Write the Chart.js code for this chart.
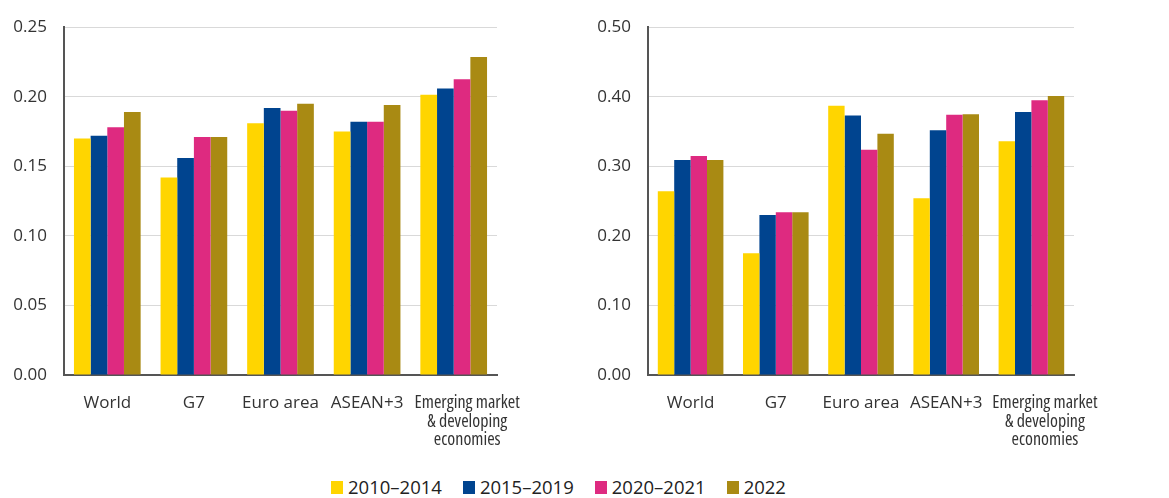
<!DOCTYPE html>
<html>
<head>
<meta charset="utf-8">
<script src="https://cdn.jsdelivr.net/npm/chart.js@4/dist/chart.umd.min.js"></script>
<style>
  html, body { margin: 0; padding: 0; background: #fff; }
  body { width: 1169px; height: 498px; position: relative; overflow: hidden; font-family: "Open Sans", sans-serif; }
  #leftBox { position: absolute; left: 0; top: 0; width: 580px; height: 460px; }
  #rightBox { position: absolute; left: 580px; top: 0; width: 589px; height: 460px; }
  #legend { position: absolute; left: 331px; top: 474px; display: flex; justify-content: flex-start; }
  .item { display: flex; align-items: center; margin-right: 21px; font-size: 18.5px; color: #222; line-height: 26px; }
  .item:last-child { margin-right: 0; }
  .box { width: 12px; height: 13px; margin-right: 5px; }
</style>
</head>
<body>
<div id="leftBox"><canvas id="left"></canvas></div>
<div id="rightBox"><canvas id="right"></canvas></div>
<div id="legend"></div>
<script>
const categories = ['World', 'G7', 'Euro area', 'ASEAN+3', ['Emerging market', '& developing', 'economies']];
const seriesLabels = ['2010\u20132014', '2015\u20132019', '2020\u20132021', '2022'];
const seriesColors = ['#FFD500', '#00448F', '#DE2A80', '#A98A13'];

// Left panel
const left2010_2014 = [0.170, 0.142, 0.181, 0.175, 0.2015];
const left2015_2019 = [0.172, 0.156, 0.192, 0.182, 0.206];
const left2020_2021 = [0.178, 0.171, 0.190, 0.182, 0.2125];
const left2022      = [0.189, 0.171, 0.195, 0.194, 0.2285];
const leftTicks = [0.00, 0.05, 0.10, 0.15, 0.20, 0.25];

// Right panel
const right2010_2014 = [0.264, 0.175, 0.387, 0.254, 0.336];
const right2015_2019 = [0.309, 0.230, 0.373, 0.352, 0.378];
const right2020_2021 = [0.315, 0.234, 0.324, 0.374, 0.395];
const right2022      = [0.309, 0.234, 0.347, 0.375, 0.401];
const rightTicks = [0.00, 0.10, 0.20, 0.30, 0.40, 0.50];

function makeChart(id, seriesList, ticks, yWidth, padRight) {
  const datasets = seriesList.map((d, i) => ({
    label: seriesLabels[i],
    data: d,
    backgroundColor: seriesColors[i],
    borderWidth: 0,
    categoryPercentage: 0.77,
    barPercentage: 1.0
  }));
  return new Chart(document.getElementById(id), {
    type: 'bar',
    data: { labels: categories, datasets },
    options: {
      responsive: true,
      maintainAspectRatio: false,
      animation: false,
      layout: { padding: { top: 19, right: padRight, left: 0, bottom: 0 } },
      plugins: { legend: { display: false }, tooltip: { enabled: false } },
      scales: {
        x: {
          grid: { display: false, drawTicks: false, tickLength: 0 },
          border: { display: true, color: '#555', width: 2 },
          ticks: {
            color: '#333',
            padding: 19,
            maxRotation: 0,
            minRotation: 0,
            autoSkip: false,
            callback: function (v, i) {
              const lab = this.getLabelForValue(v);
              // the long label sits a little right of its tick, as in the source
              return Array.isArray(lab) ? lab.map(s => '\u2002\u2002\u2002' + s) : lab;
            },
            font: (ctx) => ctx.index === 4
              ? { family: '"Open Sans"', weight: 'condensed', size: 18, lineHeight: '18.5px' }
              : { family: '"Open Sans"', size: 17, lineHeight: '18.5px' }
          },
          afterFit: (s) => { s.height = 85; }
        },
        y: {
          min: ticks[0],
          max: ticks[ticks.length - 1],
          afterBuildTicks: (s) => { s.ticks = ticks.map(v => ({ value: v })); },
          grid: { color: '#d9d9d9', lineWidth: 1, drawTicks: false, tickLength: 0 },
          border: { display: true, color: '#555', width: 2 },
          ticks: {
            color: '#333',
            padding: 17,
            font: { family: '"Open Sans"', size: 17 },
            callback: (v) => Number(v).toFixed(2)
          },
          afterFit: (s) => { s.width = yWidth; }
        }
      }
    }
  });
}

makeChart('left', [left2010_2014, left2015_2019, left2020_2021, left2022], leftTicks, 64, 83);
makeChart('right', [right2010_2014, right2015_2019, right2020_2021, right2022], rightTicks, 68, 95);

const legend = document.getElementById('legend');
seriesLabels.forEach((lab, i) => {
  const it = document.createElement('div');
  it.className = 'item';
  const b = document.createElement('span');
  b.className = 'box';
  b.style.background = seriesColors[i];
  const t = document.createElement('span');
  t.textContent = lab;
  it.appendChild(b); it.appendChild(t);
  legend.appendChild(it);
});
</script>
</body>
</html>
